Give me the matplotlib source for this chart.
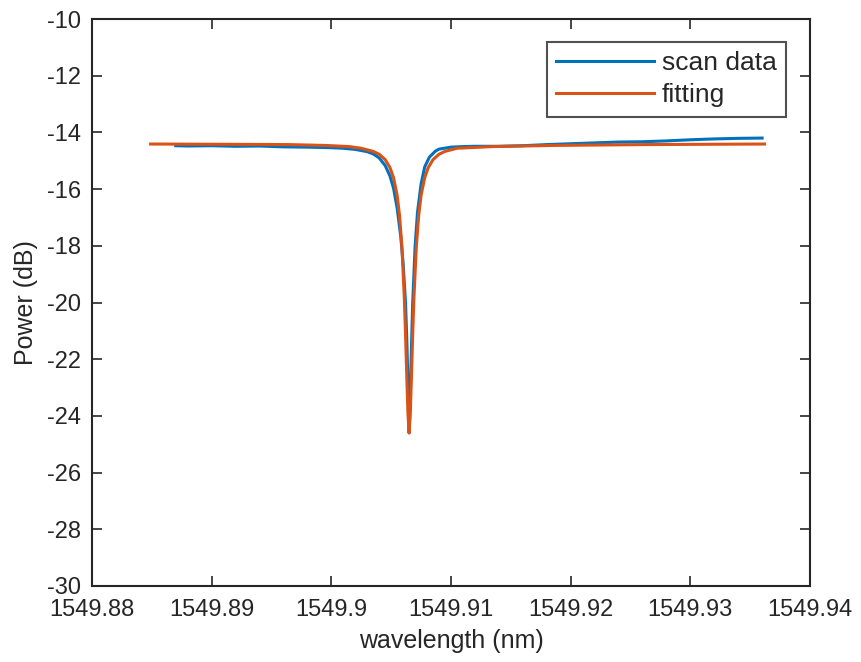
import matplotlib
matplotlib.use("Agg")
import matplotlib.pyplot as plt

plt.rcParams['font.family'] = ['Liberation Sans', 'DejaVu Sans']

# scan data (blue)
scan_x = [1549.8870, 1549.888, 1549.890, 1549.892, 1549.894, 1549.896, 1549.898,
          1549.900, 1549.901, 1549.902, 1549.903, 1549.9035, 1549.904, 1549.9045,
          1549.9049, 1549.9052, 1549.9055, 1549.9058, 1549.9060, 1549.9062, 1549.9063,
          1549.9064, 1549.9065, 1549.9066, 1549.9067, 1549.9068, 1549.9070, 1549.9072,
          1549.9075, 1549.9078, 1549.9082, 1549.9087, 1549.9090, 1549.9100, 1549.9110,
          1549.9120, 1549.9140, 1549.9160, 1549.9180, 1549.9200, 1549.9220, 1549.9240,
          1549.9260, 1549.9280, 1549.9300, 1549.9320, 1549.9340, 1549.9360]
scan_y = [-14.47, -14.48, -14.47, -14.49, -14.48, -14.51, -14.52,
          -14.54, -14.56, -14.60, -14.68, -14.76, -14.90, -15.17,
          -15.54, -15.97, -16.67, -17.67, -18.62, -20.02, -21.22,
          -22.82, -24.60, -23.22, -21.52, -20.02, -18.02, -16.82,
          -15.82, -15.22, -14.87, -14.66, -14.59, -14.52, -14.50,
          -14.49, -14.49, -14.47, -14.43, -14.40, -14.37, -14.34,
          -14.33, -14.30, -14.26, -14.23, -14.21, -14.20]

# Lorentzian fit (orange)
fit_x = [1549.8849, 1549.8915, 1549.8965, 1549.8995, 1549.9015, 1549.9025, 1549.9035,
         1549.9040, 1549.9045, 1549.9049, 1549.9052, 1549.9055, 1549.9057, 1549.9059,
         1549.9061, 1549.9062, 1549.9063, 1549.9064, 1549.9065, 1549.9066, 1549.9067,
         1549.9068, 1549.9069, 1549.9071, 1549.9073, 1549.9075, 1549.9078, 1549.9081,
         1549.9085, 1549.9090, 1549.9095, 1549.9105, 1549.9135, 1549.9185, 1549.9262,
         1549.9362]
fit_y = [-14.41, -14.42, -14.43, -14.46, -14.50, -14.56, -14.67,
         -14.77, -14.96, -15.24, -15.60, -16.22, -16.93, -18.05,
         -19.85, -21.10, -22.54, -23.89, -24.60, -23.89, -22.54,
         -21.10, -19.85, -18.05, -16.93, -16.22, -15.60, -15.24,
         -14.96, -14.77, -14.67, -14.56, -14.50, -14.46, -14.43,
         -14.41]

xticks = [1549.88, 1549.89, 1549.90, 1549.91, 1549.92, 1549.93, 1549.94]
xticklabels = ['1549.88', '1549.89', '1549.9', '1549.91', '1549.92', '1549.93', '1549.94']
yticks = [-30, -28, -26, -24, -22, -20, -18, -16, -14, -12, -10]

fig = plt.figure(figsize=(8.62, 6.62), dpi=100)
ax = fig.add_axes([92/862, 76/662, 718/862, 567/662])

ax.plot(scan_x, scan_y, color='#0072BD', lw=2.2, label='scan data')
ax.plot(fit_x, fit_y, color='#D95319', lw=2.2, label='fitting')

ax.set_xlim(1549.88, 1549.94)
ax.set_ylim(-30, -10)
ax.set_xticks(xticks)
ax.set_xticklabels(xticklabels)
ax.set_yticks(yticks)
ax.set_yticklabels([str(v) for v in yticks])

axcol = '#262626'
for s in ax.spines.values():
    s.set_color(axcol)
    s.set_linewidth(1.5)
ax.tick_params(direction='in', length=7, width=1.2, top=True, right=True,
               colors=axcol, labelsize=17)
ax.tick_params(axis='x', pad=9)
ax.tick_params(axis='y', pad=8)
ax.set_xlabel('wavelength (nm)', fontsize=18, color=axcol, labelpad=6)
ax.set_ylabel('Power (dB)', fontsize=18, color=axcol, labelpad=6)

leg = ax.legend(loc='upper right', bbox_to_anchor=(0.9665, 0.959), fontsize=19,
                handlelength=3.7, frameon=True, fancybox=False, edgecolor='#262626',
                borderpad=0.35, labelspacing=0.3, handletextpad=0.3, borderaxespad=0)
leg.get_frame().set_linewidth(1.5)
for t in leg.get_texts():
    t.set_color('#262626')

fig.savefig('out.png', dpi=100, facecolor='white')
